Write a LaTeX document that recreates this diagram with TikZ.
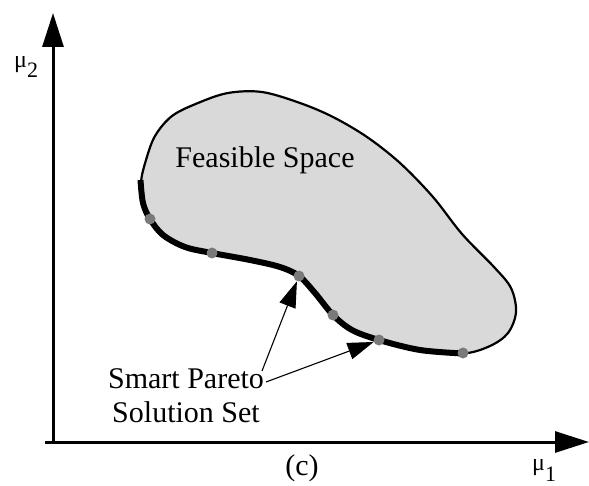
\documentclass[tikz,border=0pt]{standalone}
\usepackage{fontspec}
\setmainfont{Liberation Serif}
\usetikzlibrary{arrows.meta}
\definecolor{blobfill}{RGB}{217,217,217}
\definecolor{dotgray}{RGB}{122,122,122}
\tikzset{
  axis/.style={line width=3pt,-{Triangle[length=34pt,width=21pt]}},
  pointer/.style={line width=1.1pt,-{Triangle[length=26pt,width=17pt]}},
  dotnode/.style={circle,fill=dotgray,inner sep=0pt,minimum size=11pt},
  bigtext/.style={font=\fontsize{30}{34}\selectfont,inner sep=0pt,anchor=base},
}
\begin{document}
\begin{tikzpicture}[x=1pt,y=-1pt]
\useasboundingbox (0,0) rectangle (589,486);
% axes
\coordinate (yb) at (53,443);
\coordinate (yt) at (53,13);
\coordinate (xl) at (45,442);
\coordinate (xr) at (589,442);
\draw[axis] (yb) -- (yt);
\draw[axis] (xl) -- (xr);
% feasible region
\filldraw[fill=blobfill,draw=black,line width=2.2pt]
  plot[smooth cycle,tension=0.55] coordinates{
  (463,353.5)(490,346)(508,333)(516,312)(511,288)(494,267)(462,234)(433,197)(400,163)(367,137)(333,117)(300,103)(262,92)(228,93)(198,103)(172,116)(155,136)(146,160)(141,182)
  (143,203)(150,219)(163,235)(185,247)(212,253)(250,260)(280,267)(299,276)(315,293)(333,315)(352,330)(379,340)(420,350)};
\draw[line width=6pt,line cap=butt]
  plot[smooth,tension=0.55] coordinates{
  (140.5,180)(143,203)(150,219)(163,235)(185,247)(212,253)(250,260)(280,267)(299,276)(315,293)(333,315)(352,330)(379,340)(420,350)(463,353.5)};
% pareto points
\node[dotnode] (p1) at (150,219) {};
\node[dotnode] (p2) at (212,253) {};
\node[dotnode] (p3) at (299,276) {};
\node[dotnode] (p4) at (333,315) {};
\node[dotnode] (p5) at (379,340) {};
\node[dotnode] (p6) at (463,353) {};
% texts
\node[bigtext] (fs) at (265,168) {Feasible Space};
\node[bigtext] (l1) at (186,388) {Smart Pareto};
\node[bigtext] (l2) at (186,422) {Solution Set};
\node[bigtext] (c) at (302,475) {(c)};
\node[inner sep=0pt,anchor=base west,font=\fontsize{24}{24}\selectfont] (mu2) at (14,68) {μ\raisebox{-10pt}{\fontsize{22}{22}\selectfont 2}};
\node[inner sep=0pt,anchor=base west,font=\fontsize{24}{24}\selectfont] (mu1) at (532,470) {μ\raisebox{-11pt}{\fontsize{22}{22}\selectfont 1}};
% pointers
\coordinate (a1) at (262,371);
\coordinate (a2) at (266,382);
\draw[pointer] (a1) -- (p3);
\draw[pointer] (a2) -- (p5);
\end{tikzpicture}
\end{document}
